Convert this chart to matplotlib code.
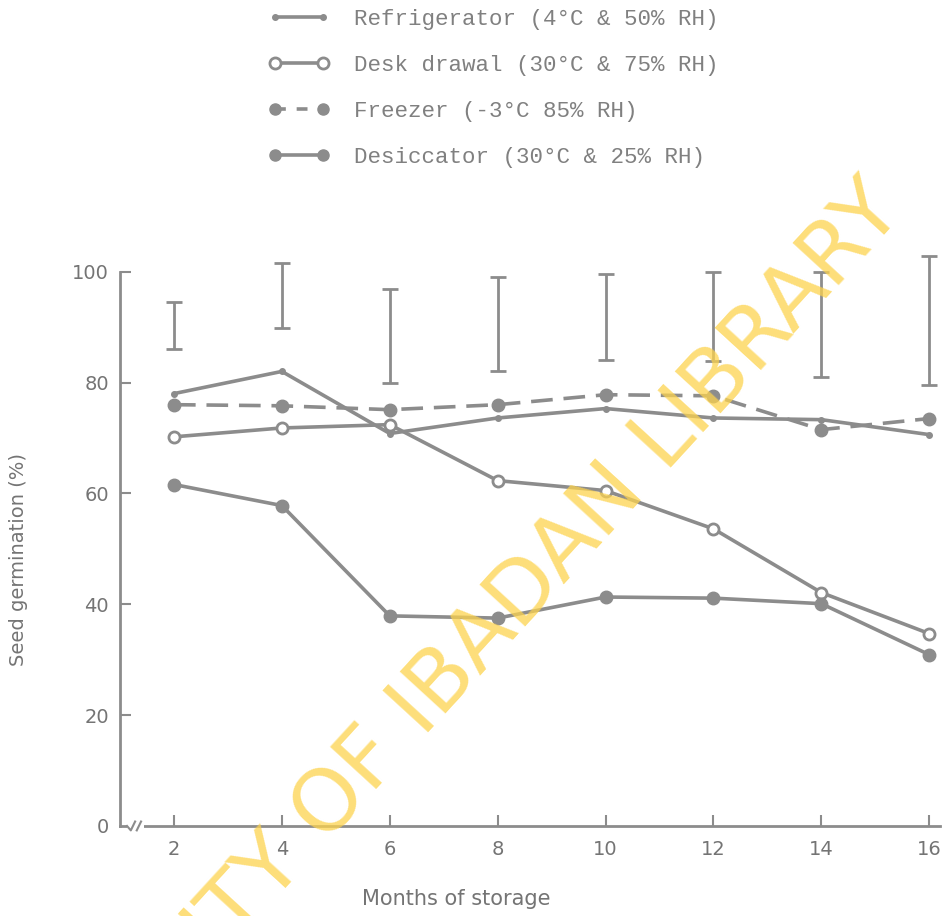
import numpy as np
import matplotlib
matplotlib.use("Agg")
import matplotlib.pyplot as plt
from matplotlib.lines import Line2D

# Data
months = [2, 4, 6, 8, 10, 12, 14, 16]
refrigerator = [78.0, 82.0, 70.8, 73.6, 75.3, 73.6, 73.3, 70.6]
desk_drawal = [70.2, 71.8, 72.4, 62.3, 60.5, 53.6, 42.1, 34.7]
freezer = [76.0, 75.8, 75.1, 76.0, 77.8, 77.6, 71.5, 73.5]
desiccator = [61.6, 57.8, 37.9, 37.5, 41.3, 41.1, 40.1, 30.9]
lsd_low = [86.0, 89.9, 80.0, 82.0, 84.0, 83.8, 81.0, 79.5]
lsd_high = [94.6, 101.6, 96.8, 99.1, 99.5, 100.0, 100.0, 102.9]

labels = ["Refrigerator (4°C & 50% RH)",
          "Desk drawal (30°C & 75% RH)",
          "Freezer (-3°C 85% RH)",
          "Desiccator (30°C & 25% RH)"]

grey = "#8c8c8c"
txt = "#747474"

fig = plt.figure(figsize=(9.48, 9.16), dpi=100)
ax = fig.add_axes([0.1266, 0.0983, 0.865, 0.6354])

lw = 2.6
ax.plot(months, refrigerator, color=grey, lw=lw, marker="o", ms=4)
ax.plot(months, desk_drawal, color=grey, lw=lw, marker="o", ms=8,
        mfc="white", mec=grey, mew=2)
ax.plot(months, freezer, color=grey, lw=lw, ls=(0, (6, 3)), marker="o", ms=9)
ax.plot(months, desiccator, color=grey, lw=lw, marker="o", ms=9)

# LSD bars
mid = (np.array(lsd_low) + np.array(lsd_high)) / 2
half = (np.array(lsd_high) - np.array(lsd_low)) / 2
ax.errorbar(months, mid, yerr=half, fmt="none", ecolor=grey, elinewidth=2,
            capsize=6, capthick=2)

ax.set_xlim(1, 16.2)
ax.set_ylim(0, 105)
ax.spines["top"].set_visible(False)
ax.spines["right"].set_visible(False)
ax.spines["left"].set_bounds(0, 100)
ax.spines["left"].set_color(grey)
ax.spines["bottom"].set_color(grey)
ax.spines["left"].set_linewidth(2)
ax.spines["bottom"].set_linewidth(2)

ax.set_xticks(months)
ax.set_xticklabels(["2", "4", "6", "8", "10", "12", "14", "16"])
ax.set_yticks([0, 20, 40, 60, 80, 100])
ax.set_yticklabels(["0", "20", "40", "60", "80", "100"])
ax.tick_params(axis="x", direction="in", length=8, width=1.5, color=grey,
               labelsize=14, labelcolor=txt, pad=10)
ax.tick_params(axis="y", direction="in", length=8, width=1.5, color=grey,
               labelsize=14, labelcolor=txt, pad=8)
ax.yaxis.get_major_ticks()[0].tick1line.set_visible(False)

# axis break near origin
ax.plot([1.13, 1.44], [0, 0], color="white", lw=3, clip_on=False, zorder=5,
        solid_capstyle="butt")
ax.plot([1.13, 1.2, 1.28], [0, -0.8, 0.8], color=grey, lw=1.5,
        clip_on=False, zorder=6)
ax.plot([1.31, 1.39], [-0.8, 0.8], color=grey, lw=1.5, clip_on=False, zorder=6)

ax.set_xlabel("Months of storage", fontsize=15, color=txt, va="top")
ax.xaxis.set_label_coords(0.41, -0.108)
ax.set_ylabel("Seed germination (%)", fontsize=14, color=txt, va="center")
ax.yaxis.set_label_coords(-0.124, 0.457)

# legend
handles = [
    Line2D([], [], color=grey, lw=lw, marker="o", ms=4),
    Line2D([], [], color=grey, lw=lw, marker="o", ms=8, mfc="white", mew=2),
    Line2D([], [], color=grey, lw=lw, ls=(0, (3, 3)), marker="o", ms=8),
    Line2D([], [], color=grey, lw=lw, marker="o", ms=8),
]
leg = fig.legend(handles, labels, loc="upper left", bbox_to_anchor=(0.262, 1.012),
                 frameon=False, handlelength=2.7, handletextpad=1.1,
                 labelspacing=1.1, numpoints=2,
                 prop={"family": "Liberation Mono", "size": 16.2})
for t in leg.get_texts():
    t.set_color("#808080")

# watermark
fig.text(0.955, 0.769, "UNIVERSITY OF IBADAN LIBRARY", fontsize=62,
         color="#fdd34d", alpha=0.75, rotation=47.5, ha="right", va="baseline",
         rotation_mode="anchor", zorder=20, family="DejaVu Sans")

fig.savefig("out.png", dpi=100)
